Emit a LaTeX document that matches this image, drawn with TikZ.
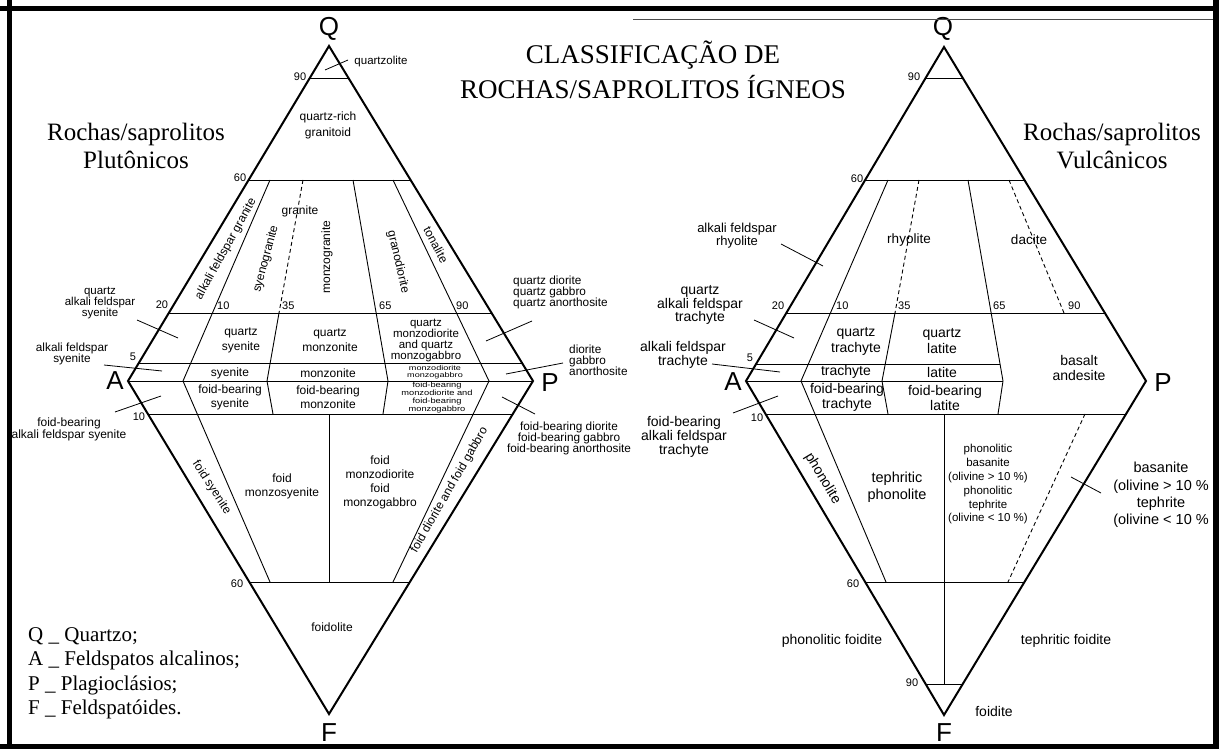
\documentclass[tikz,border=0pt]{standalone}
\usepackage{fontspec}
\usepackage{graphicx}
\setmainfont{Liberation Serif}
\newfontfamily\arial{Liberation Sans}
\newcommand{\myfs}[2]{\arial\fontsize{#1}{#2}\selectfont}
\begin{document}
\begin{tikzpicture}[x=1pt,y=-1pt,
  edge/.style={line width=2pt, line join=miter},
  fine/.style={line width=0.9pt},
  dashln/.style={line width=0.9pt, dash pattern=on 4pt off 3pt},
  lead/.style={line width=0.8pt},
  t/.style={inner sep=0pt, align=center, font=\myfs{12}{12}},
  num/.style={inner sep=0pt, font=\myfs{11}{11}},
  vtx/.style={inner sep=0pt, font=\myfs{26}{26}},
  big/.style={inner sep=0pt, align=center, font=\fontsize{25}{28}\selectfont}
]
\useasboundingbox (0,0) rectangle (1219,749);
\fill[white] (0,0) rectangle (1219,749);

%%%%%%%%%%%%%%%% LEFT DIAMOND
\coordinate (LQ) at (329,46);
\coordinate (LA) at (128,381);
\coordinate (LF) at (329,714);
\coordinate (LP) at (533,381);
\draw[fine] (310,78) -- (348.5,78);
\draw[fine] (249,180) -- (410.6,180);
\draw[fine] (168.8,313) -- (491.6,313);
\draw[fine] (138.8,363) -- (522,363);
\draw[fine] (LA) -- (LP);
\draw[fine] (148,414) -- (512.8,414);
\draw[fine] (249.3,582) -- (409.9,582);
\draw[fine] (270,180) -- (183,381) -- (270,582);
\draw[dashln] (303,180) -- (279,313);
\draw[fine] (279,313) -- (267,381) -- (273,414);
\draw[fine] (353,180) -- (388,381) -- (383,414);
\draw[fine] (393,180) -- (489,381) -- (393,582);
\draw[fine] (329,414) -- (329,582);
\draw[edge] (LQ) -- (LA) -- (LF) -- (LP) -- cycle;

\node[vtx] (lq) at (329,29) {Q};
\node[vtx] (la) at (115,381) {A};
\node[vtx] (lp) at (550,383) {P};
\node[vtx] (lf) at (329,733) {F};
\node[num] (l90) at (300,77) {90};
\node[num] (l60) at (240,178) {60};
\node[num] (l20) at (162,305) {20};
\node[num] (l5) at (133,357) {5};
\node[num] (l10f) at (139,417) {10};
\node[num] (l60f) at (237,584) {60};
\node[num, anchor=west] (lr10) at (217,306) {10};
\node[num, anchor=west] (lr35) at (282,306) {35};
\node[num, anchor=west] (lr65) at (379,306) {65};
\node[num, anchor=west] (lr90) at (456,306) {90};
\node[t, font=\myfs{11.5}{12}] (lqz) at (381,62) {quartzolite};
\draw[lead] (348,60) -- (325,70);
\node[t, font=\myfs{12}{16}] (lqrg) at (328,125) {quartz-rich\\granitoid};
\node[t, rotate=61] (lafg) at (226,249) {alkali feldspar granite};
\node[t, rotate=75] (lsyg) at (266,259) {syenogranite};
\node[t] (lgra) at (300,211) {granite};
\node[t, rotate=90] (lmzg) at (327,257) {monzogranite};
\node[t, rotate=-77] (lgrd) at (398,262) {granodiorite};
\node[t, rotate=-62] (lton) at (436,245) {tonalite};
\node[t, font=\myfs{12}{15}] (lqs) at (241,340.5) {quartz\\syenite};
\node[t, font=\myfs{12}{15}] (lqm) at (330,340.5) {quartz\\monzonite};
\node[t, font=\myfs{11.5}{11}] (lqmd) at (426,340.5) {quartz\\monzodiorite\\and quartz\\monzogabbro};
\node[t] (lsy) at (230,373) {syenite};
\node[t] (lmz) at (328,373) {monzonite};
\node[t, font=\myfs{7}{7}] (lmzd) at (435,372.5) {\scalebox{1.3}[1]{monzodiorite}\\\scalebox{1.3}[1]{monzogabbro}};
\node[t, font=\myfs{12}{14}] (lfbs) at (230,397) {foid-bearing\\syenite};
\node[t, font=\myfs{12}{14}] (lfbm) at (328,397) {foid-bearing\\monzonite};
\node[t, font=\myfs{7.6}{8}] (lfbmd) at (437,398) {\scalebox{1.22}[1]{foid-bearing}\\\scalebox{1.22}[1]{monzodiorite and}\\\scalebox{1.22}[1]{foid-bearing}\\\scalebox{1.22}[1]{monzogabbro}};
\node[t, rotate=-57] (lfs) at (211.5,487.5) {foid syenite};
\node[t, font=\myfs{12}{14}] (lfms) at (282,486) {foid\\monzosyenite};
\node[t, font=\myfs{12}{14}] (lfmd) at (380,482) {foid\\monzodiorite\\foid\\monzogabbro};
\node[t, rotate=60] (lfdg) at (449.5,490) {foid diorite and foid gabbro};
\node[t] (lfdl) at (332,627) {foidolite};
\node[t, font=\myfs{11.5}{11}] (lqafs) at (100,302.5) {quartz\\alkali feldspar\\syenite};
\draw[lead] (137,320) -- (178,338);
\node[t, font=\myfs{11.8}{11}] (lafs) at (72,354) {alkali feldspar\\syenite};
\draw[lead] (104,365) -- (162,371);
\node[t, font=\myfs{12}{12}] (lfbafs) at (69,429) {foid-bearing\\alkali feldspar syenite};
\draw[lead] (115,412) -- (161,396);
\node[t, font=\myfs{11.8}{11}, align=left, anchor=west] (lqd) at (513,292) {quartz diorite\\quartz gabbro\\quartz anorthosite};
\draw[lead] (486,341) -- (532,321);
\node[t, font=\myfs{11.8}{11}, align=left, anchor=west] (ldga) at (569,360) {diorite\\gabbro\\anorthosite};
\draw[lead] (506,374) -- (563,363);
\node[t, font=\myfs{11.8}{11}] (lfbd) at (569,438) {foid-bearing diorite\\foid-bearing gabbro\\foid-bearing anorthosite};
\draw[lead] (502,397) -- (535,414);

%%%%%%%%%%%%%%%% RIGHT DIAMOND
\coordinate (RQ) at (944,47);
\coordinate (RA) at (746,381);
\coordinate (RF) at (944,715);
\coordinate (RP) at (1146,381);
\draw[fine] (925.6,78) -- (962.7,78);
\draw[fine] (865.2,180) -- (1024.4,180);
\draw[fine] (786.3,313) -- (1104.9,313);
\draw[fine] (756.1,364) -- (1000,364);
\draw[fine] (RA) -- (1003,381);
\draw[fine] (765.6,414) -- (1126,414);
\draw[fine] (865.2,582) -- (1024.4,582);
\draw[fine] (925.6,684) -- (962.7,684);
\draw[fine] (888,180) -- (801,381) -- (886,582);
\draw[dashln] (919,180) -- (895,313);
\draw[fine] (895,313) -- (882,381) -- (888,414);
\draw[fine] (968,180) -- (1003,381) -- (998,414);
\draw[dashln] (1009,180) -- (1064,313);
\draw[dashln] (1085,414) -- (1008,582);
\draw[fine] (944,414) -- (944,684);
\draw[edge] (RQ) -- (RA) -- (RF) -- (RP) -- cycle;

\node[vtx] (rq) at (943,29) {Q};
\node[vtx] (ra) at (733,382) {A};
\node[vtx] (rp) at (1163,383) {P};
\node[vtx] (rf) at (944,733) {F};
\node[num] (r90) at (914,77) {90};
\node[num] (r60) at (857,179) {60};
\node[num] (r20) at (778,306) {20};
\node[num] (r5) at (750,358) {5};
\node[num] (r10f) at (757,418) {10};
\node[num] (r60f) at (853,584) {60};
\node[num] (r90f) at (912,683) {90};
\node[num, anchor=west] (rr10) at (836,306) {10};
\node[num, anchor=west] (rr35) at (898,306) {35};
\node[num, anchor=west] (rr65) at (993,306) {65};
\node[num, anchor=west] (rr90) at (1068,306) {90};

\node[t, font=\myfs{13.5}{14}] (rrhy) at (909,240) {rhyolite};
\node[t, font=\myfs{13.5}{14}] (rdac) at (1029,240) {dacite};
\node[t, font=\myfs{13}{13}] (rafr) at (737,236) {alkali feldspar\\rhyolite};
\draw[lead] (781,244) -- (823,266);
\node[t, font=\myfs{14}{13.5}] (rqaft) at (700,305) {quartz\\alkali feldspar\\trachyte};
\draw[lead] (754,320) -- (794,338);
\node[t, font=\myfs{14}{14}] (raft) at (683,355) {alkali feldspar\\trachyte};
\draw[lead] (712,364) -- (780,372);
\node[t, font=\myfs{14}{14}] (rfbaft) at (684,437) {foid-bearing\\alkali feldspar\\trachyte};
\draw[lead] (733,413) -- (778,396);
\node[t, font=\myfs{14}{16}] (rqt) at (856,341) {quartz\\trachyte};
\node[t, font=\myfs{14}{16}] (rql) at (942,341) {quartz\\latite};
\node[t, font=\myfs{14}{14}] (rtr) at (846,372) {trachyte};
\node[t, font=\myfs{14}{14}] (rla) at (942,372) {latite};
\node[t, font=\myfs{14}{15}] (rfbt) at (847,397.5) {foid-bearing\\trachyte};
\node[t, font=\myfs{14}{15}] (rfbl) at (945,397.5) {foid-bearing\\latite};
\node[t, font=\myfs{14}{15}] (rba) at (1079,367.5) {basalt\\andesite};
\node[t, font=\myfs{14}{14}, rotate=-59] (rpho) at (822.5,478.5) {phonolite};
\node[t, font=\myfs{14.5}{17}] (rtp) at (897,487) {tephritic\\phonolite};
\node[t, font=\myfs{11.5}{13.8}] (rpb) at (988,484.5) {phonolitic\\basanite\\(olivine > 10 \%)\\phonolitic\\tephrite\\(olivine < 10 \%)};
\node[t, font=\myfs{14.5}{17.3}] (rbas) at (1161,495) {basanite\\(olivine > 10 \%\\tephrite\\(olivine < 10 \%};
\draw[lead] (1071,477) -- (1101,493);
\node[t, font=\myfs{14}{14}] (rpf) at (832,641) {phonolitic foidite};
\node[t, font=\myfs{14}{14}] (rtf) at (1066,641) {tephritic foidite};
\node[t, font=\myfs{14}{14}] (rfo) at (994,711) {foidite};

%%%%%%%%%%%%%%%% TITLES
\node[big, font=\fontsize{27}{35}\selectfont] (title) at (653,70) {CLASSIFICAÇÃO DE\\ROCHAS/SAPROLITOS ÍGNEOS};
\node[big] (plut) at (136,146) {Rochas/saprolitos\\Plutônicos};
\node[big] (vulc) at (1112,146) {Rochas/saprolitos\\Vulcânicos};
\node[inner sep=0pt, align=left, anchor=west, font=\fontsize{21}{24.5}\selectfont] (legend) at (28,673.5)
  {Q \_ Quartzo;\\A \_ Feldspatos alcalinos;\\P \_ Plagioclásios;\\F \_ Feldspatóides.};

%%%%%%%%%%%%%%%% FRAME
\draw[line width=1pt, black!70] (633,20) -- (1213,20);
\draw[line width=5pt] (9,0) -- (9,749);
\draw[line width=5pt] (0,9) -- (1219,9);
\draw[line width=6pt] (1216,0) -- (1216,749);
\draw[line width=5pt] (0,746) -- (1219,746);
\end{tikzpicture}
\end{document}
